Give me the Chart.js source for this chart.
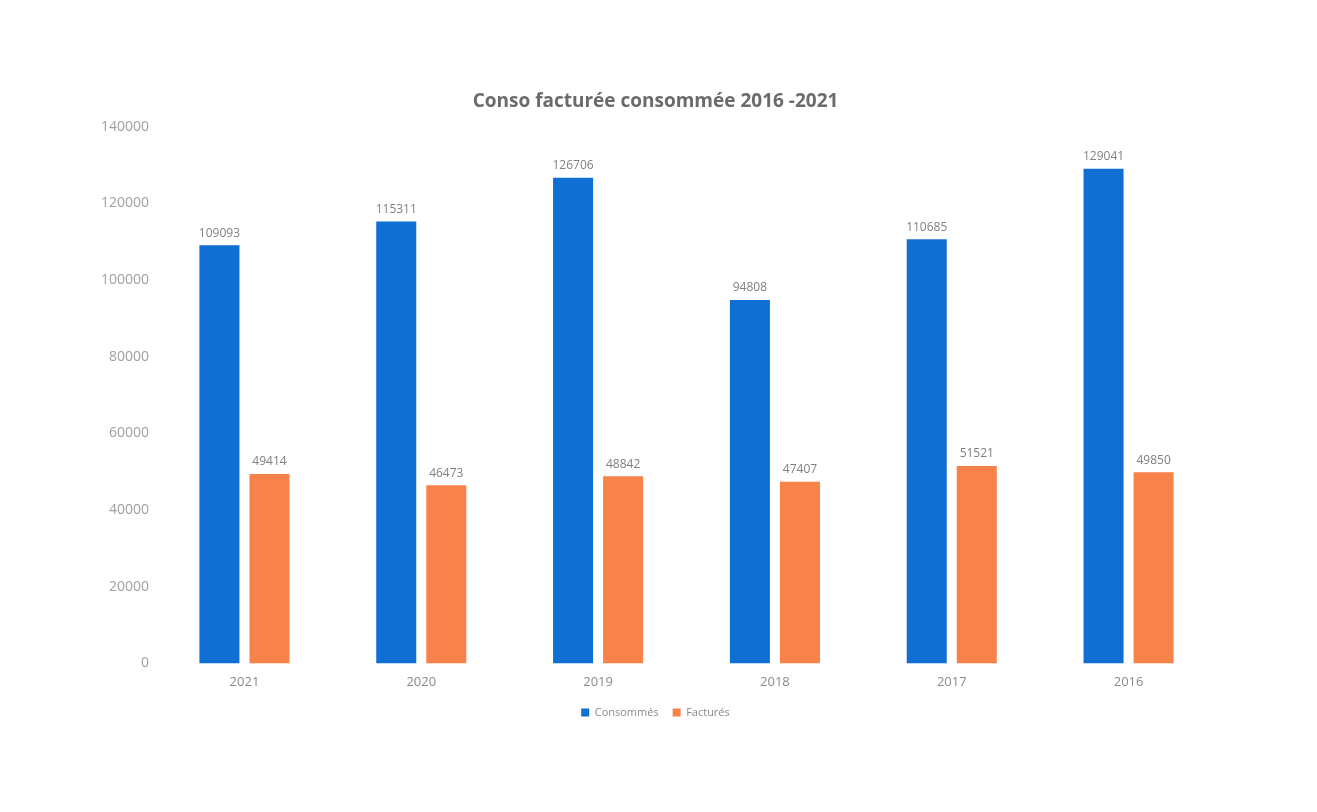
<!DOCTYPE html>
<html>
<head>
<meta charset="utf-8">
<script src="https://cdn.jsdelivr.net/npm/chart.js@4"></script>
<style>
  html, body { margin: 0; padding: 0; background: #fff; }
  #wrap { width: 1317px; height: 812px; position: relative; }
</style>
</head>
<body>
<div id="wrap"><canvas id="conso"></canvas></div>
<script>
const years = ["2021", "2020", "2019", "2018", "2017", "2016"];
const consommes = [109093, 115311, 126706, 94808, 110685, 129041];
const factures = [49414, 46473, 48842, 47407, 51521, 49850];
const yTicks = [0, 20000, 40000, 60000, 80000, 100000, 120000, 140000];

// values written above each bar
const valueLabels = {
  id: "valueLabels",
  afterDatasetsDraw(chart) {
    const ctx = chart.ctx;
    ctx.save();
    ctx.font = "12px 'Open Sans', sans-serif";
    ctx.fillStyle = "#7f7f7f";
    ctx.textAlign = "center";
    ctx.textBaseline = "bottom";
    chart.data.datasets.forEach((ds, i) => {
      chart.getDatasetMeta(i).data.forEach((bar, j) => {
        ctx.fillText(ds.data[j], bar.x, bar.y - 6);
      });
    });
    ctx.restore();
  },
};

new Chart(document.getElementById("conso"), {
  type: "bar",
  data: {
    labels: years,
    datasets: [
      {
        label: "Consommés",
        data: consommes,
        backgroundColor: "#0f6fd3",
        categoryPercentage: 0.566,
        barPercentage: 0.8,
      },
      {
        label: "Facturés",
        data: factures,
        backgroundColor: "#f7834b",
        categoryPercentage: 0.566,
        barPercentage: 0.8,
      },
    ],
  },
  options: {
    responsive: true,
    maintainAspectRatio: false,
    animation: false,
    layout: { padding: { top: 90, left: 94, right: 100, bottom: 84 } },
    plugins: {
      title: {
        display: true,
        text: "Conso facturée consommée 2016 -2021",
        color: "#6b6b6b",
        font: { family: "'Open Sans', sans-serif", size: 19, weight: "bold" },
        padding: { top: 0, bottom: 14 },
      },
      legend: {
        position: "bottom",
        labels: {
          boxWidth: 8,
          boxHeight: 8,
          padding: 14,
          font: { family: "'Open Sans', sans-serif", size: 11 },
          color: "#8a8a8a",
        },
      },
      tooltip: { enabled: false },
    },
    scales: {
      x: {
        grid: { display: false },
        border: { display: false },
        ticks: { color: "#8a8a8a", font: { family: "'Open Sans', sans-serif", size: 13 } },
      },
      y: {
        min: 0,
        max: 140000,
        afterBuildTicks(axis) {
          axis.ticks = yTicks.map((v) => ({ value: v }));
        },
        grid: { display: false, drawTicks: false },
        border: { display: false },
        ticks: {
          color: "#a0a0a0",
          padding: 7,
          font: { family: "'Open Sans', sans-serif", size: 14 },
          callback: (v) => String(v),
        },
      },
    },
  },
  plugins: [valueLabels],
});
</script>
</body>
</html>
